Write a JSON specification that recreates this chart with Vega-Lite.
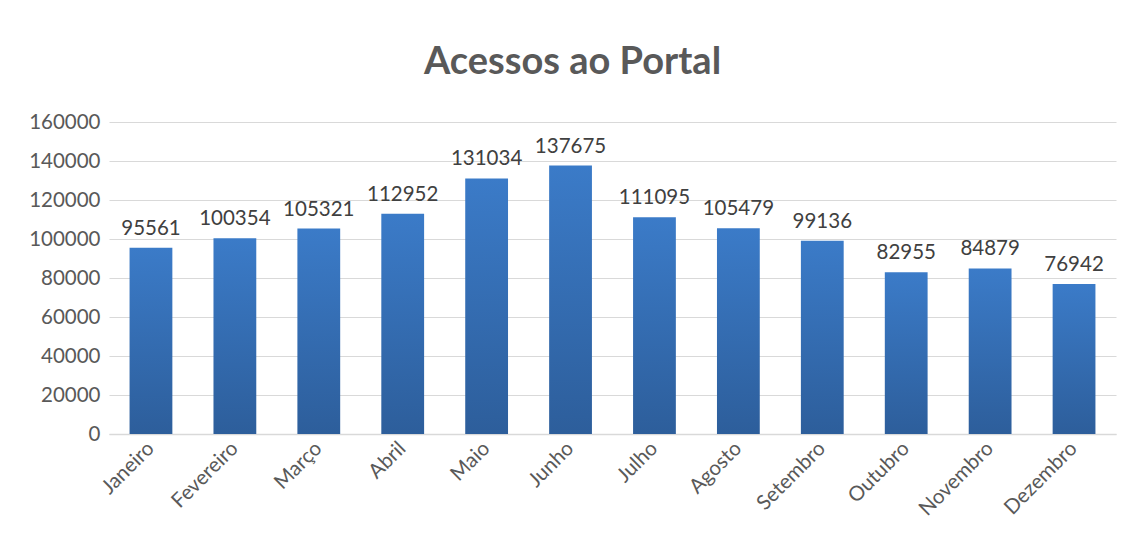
{
  "$schema": "https://vega.github.io/schema/vega-lite/v6.json",
  "width": 1007,
  "height": 312,
  "autosize": {"type": "none"},
  "padding": {"left": 109, "top": 122, "right": 13, "bottom": 100},
  "background": "white",
  "title": {
    "text": "Acessos ao Portal",
    "font": "Lato",
    "fontSize": 38,
    "fontWeight": "bold",
    "color": "#595959",
    "anchor": "middle",
    "dx": -40,
    "offset": 30
  },
  "data": {
    "values": [
      {"mes": "Janeiro", "acessos": 95561},
      {"mes": "Fevereiro", "acessos": 100354},
      {"mes": "Março", "acessos": 105321},
      {"mes": "Abril", "acessos": 112952},
      {"mes": "Maio", "acessos": 131034},
      {"mes": "Junho", "acessos": 137675},
      {"mes": "Julho", "acessos": 111095},
      {"mes": "Agosto", "acessos": 105479},
      {"mes": "Setembro", "acessos": 99136},
      {"mes": "Outubro", "acessos": 82955},
      {"mes": "Novembro", "acessos": 84879},
      {"mes": "Dezembro", "acessos": 76942}
    ]
  },
  "encoding": {
    "x": {
      "field": "mes",
      "type": "nominal",
      "sort": null,
      "scale": {"paddingInner": 0.49, "paddingOuter": 0.245},
      "axis": {
        "title": null,
        "labelAngle": -45,
        "labelAlign": "right",
        "labelBaseline": "middle",
        "labelFont": "Lato",
        "labelFontSize": 20.5,
        "labelColor": "#595959",
        "labelPadding": 11,
        "ticks": false,
        "domainColor": "#d9d9d9",
        "domainWidth": 1.5,
        "grid": false
      }
    },
    "y": {
      "field": "acessos",
      "type": "quantitative",
      "scale": {"domain": [0, 160000], "nice": false},
      "axis": {
        "title": null,
        "values": [0, 20000, 40000, 60000, 80000, 100000, 120000, 140000, 160000],
        "format": "d",
        "labelFont": "Lato",
        "labelFontSize": 20.5,
        "labelColor": "#595959",
        "labelPadding": 9,
        "ticks": false,
        "domain": false,
        "grid": true,
        "gridColor": "#d9d9d9",
        "gridWidth": 1.2
      }
    }
  },
  "layer": [
    {
      "mark": {
        "type": "bar",
        "color": {
          "gradient": "linear",
          "x1": 0, "y1": 0, "x2": 0, "y2": 1,
          "stops": [
            {"offset": 0, "color": "#3b7bc8"},
            {"offset": 1, "color": "#2d5e9b"}
          ]
        }
      }
    },
    {
      "mark": {
        "type": "text",
        "font": "Lato",
        "fontSize": 20.5,
        "color": "#404040",
        "baseline": "alphabetic",
        "dy": -13
      },
      "encoding": {
        "text": {"field": "acessos", "type": "quantitative", "format": "d"}
      }
    }
  ],
  "config": {
    "view": {"stroke": null}
  }
}
